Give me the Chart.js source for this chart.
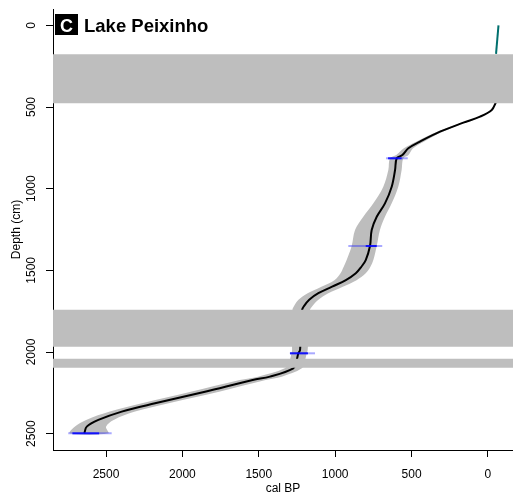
<!DOCTYPE html>
<html>
<head>
<meta charset="utf-8">
<script src="https://cdn.jsdelivr.net/npm/chart.js@4/dist/chart.umd.min.js"></script>
<style>
  html, body { margin: 0; padding: 0; background: #fff; }
  canvas { display: block; }
</style>
</head>
<body>
<canvas id="chart" width="513" height="497"></canvas>
<script>
// Panel label
const panelLetter = 'C';
const siteName = 'Lake Peixinho';

// Axis ticks
const xTickValues = [2500, 2000, 1500, 1000, 500, 0];
const yTickValues = [0, 500, 1000, 1500, 2000, 2500];

// Age-depth model (depth in cm, ages in cal BP): mean and envelope
const modelDepth = [470, 518, 559, 596, 651, 712, 753, 794, 814, 886, 988, 1090, 1172, 1253, 1351, 1437, 1480, 1518, 1560, 1600, 1640, 1680, 1720, 1743, 1850, 1988, 2008, 2060, 2100, 2151, 2171, 2243, 2314, 2365, 2416, 2457, 2498];
const modelMean  = [-53, -25, 52, 161, 314, 445, 521, 560, 597, 608, 630, 674, 728, 761, 772, 800, 830, 865, 930, 1020, 1110, 1170, 1205, 1217, 1225, 1230, 1241, 1255, 1274, 1427, 1540, 1852, 2179, 2397, 2550, 2626, 2642];
const modelYoung = [-53, -28, 46, 150, 296, 420, 490, 520, 554, 565, 587, 630, 674, 707, 728, 750, 770, 800, 860, 950, 1045, 1110, 1150, 1165, 1172, 1180, 1186, 1200, 1218, 1350, 1455, 1760, 2090, 2310, 2450, 2500, 2485];
const modelOld   = [-53, -22, 58, 172, 332, 470, 550, 600, 641, 652, 685, 750, 816, 870, 892, 925, 945, 965, 1005, 1090, 1180, 1240, 1270, 1280, 1285, 1282, 1286, 1300, 1330, 1505, 1625, 1945, 2265, 2475, 2630, 2705, 2736];

// Uppermost segment
const surfaceDepth = [0, 175];
const surfaceAge = [-69, -53];

// Dated levels: full and inner calibrated ranges (cal BP)
const dateDepth     = [814, 1351, 2008, 2498];
const dateFrom      = [525, 692, 1132, 2463];
const dateTo        = [667, 914, 1296, 2747];
const dateInnerFrom = [565, 728, 1178, 2545];
const dateInnerTo   = [654, 800, 1296, 2720];

// Excluded intervals (cm)
const gapTop    = [177, 1742, 2042];
const gapBottom = [477, 1968, 2097];

// Axis limits
const xMin = -164, xMax = 2847;
const yMin = -100, yMax = 2600;

Chart.defaults.font.family = '"Liberation Sans", Arial, sans-serif';
Chart.defaults.color = '#000';

const datasets = [];

// grey excluded intervals, drawn on top
gapTop.forEach((top, i) => {
  datasets.push({
    data: [{x: xMin, y: top}, {x: xMax, y: top}, {x: xMax, y: gapBottom[i]}, {x: xMin, y: gapBottom[i]}],
    fill: 'shape', backgroundColor: '#bebebe', borderColor: 'rgba(0,0,0,0)', borderWidth: 0,
    tension: 0, order: 1
  });
});

// dated levels
dateDepth.forEach((d, i) => {
  datasets.push({
    data: [{x: dateInnerFrom[i], y: d}, {x: dateInnerTo[i], y: d}],
    borderColor: 'rgba(0,0,255,0.85)', borderWidth: 2, fill: false, tension: 0, order: 2
  });
  datasets.push({
    data: [{x: dateFrom[i], y: d}, {x: dateTo[i], y: d}],
    borderColor: 'rgba(40,40,255,0.4)', borderWidth: 2, fill: false, tension: 0, order: 3
  });
});

// surface segment
datasets.push({
  data: surfaceDepth.map((d, i) => ({x: surfaceAge[i], y: d})),
  borderColor: '#00706e', borderWidth: 2, fill: false, tension: 0, order: 4
});

// mean age curve
datasets.push({
  data: modelDepth.map((d, i) => ({x: modelMean[i], y: d})),
  borderColor: '#000', borderWidth: 2, fill: false, tension: 0.35, order: 5
});

// envelope: down the old edge, back up the young edge
const envelope = modelDepth.map((d, i) => ({x: modelOld[i], y: d}))
  .concat(modelDepth.map((d, i) => ({x: modelYoung[i], y: d})).reverse());
datasets.push({
  data: envelope,
  fill: 'shape', backgroundColor: '#bdbdbd', borderColor: 'rgba(0,0,0,0)', borderWidth: 0,
  tension: 0.35, order: 6
});

// rotated depth labels and the panel tag
const decorations = {
  id: 'decorations',
  afterDraw(chart) {
    const {ctx, chartArea, scales} = chart;
    const y = scales.y;
    ctx.save();
    ctx.font = '12px "Liberation Sans", Arial, sans-serif';
    ctx.fillStyle = '#000';
    ctx.textAlign = 'center';
    ctx.textBaseline = 'middle';
    y.ticks.forEach(t => {
      ctx.save();
      ctx.translate(chartArea.left - 21, y.getPixelForValue(t.value));
      ctx.rotate(-Math.PI / 2);
      ctx.fillText(String(t.value), 0, 0);
      ctx.restore();
    });

    const bx = chartArea.left + 2, by = chartArea.top + 5;
    ctx.fillStyle = '#000';
    ctx.fillRect(bx, by, 23, 21);
    ctx.fillStyle = '#fff';
    ctx.font = 'bold 18px "Liberation Sans", Arial, sans-serif';
    ctx.textAlign = 'center';
    ctx.textBaseline = 'alphabetic';
    ctx.fillText(panelLetter, bx + 11.5, by + 17.5);
    ctx.fillStyle = '#000';
    ctx.textAlign = 'left';
    ctx.font = 'bold 18.5px "Liberation Sans", Arial, sans-serif';
    ctx.fillText(siteName, bx + 29, by + 17.5);
    ctx.restore();
  }
};

new Chart(document.getElementById('chart'), {
  type: 'line',
  data: {datasets},
  plugins: [decorations],
  options: {
    responsive: false,
    animation: false,
    devicePixelRatio: 1,
    layout: {padding: {top: 9, left: 0, right: 0, bottom: 0}},
    plugins: {legend: {display: false}, tooltip: {enabled: false}},
    elements: {point: {radius: 0, hoverRadius: 0}, line: {borderCapStyle: 'butt'}},
    scales: {
      x: {
        type: 'linear', reverse: true, min: xMin, max: xMax,
        afterBuildTicks: s => { s.ticks = xTickValues.map(v => ({value: v})); },
        afterFit: s => { s.height = 47; },
        grid: {display: true, drawOnChartArea: false, drawTicks: true, tickLength: 7, color: '#000', lineWidth: 1},
        border: {display: true, color: '#000', width: 1},
        ticks: {color: '#000', font: {size: 12}, padding: 10, maxRotation: 0, autoSkip: false, callback: v => String(v)},
        title: {display: true, text: 'cal BP', color: '#000', font: {size: 12}, padding: {top: 0, bottom: 1}}
      },
      y: {
        type: 'linear', reverse: true, min: yMin, max: yMax,
        afterBuildTicks: s => { s.ticks = yTickValues.map(v => ({value: v})); },
        afterFit: s => { s.width = 53; },
        grid: {display: true, drawOnChartArea: false, drawTicks: true, tickLength: 7, color: '#000', lineWidth: 1},
        border: {display: true, color: '#000', width: 1},
        ticks: {display: false},
        title: {display: true, text: 'Depth (cm)', color: '#000', font: {size: 12}, padding: {top: 9, bottom: 0}}
      }
    }
  }
});
</script>
</body>
</html>
